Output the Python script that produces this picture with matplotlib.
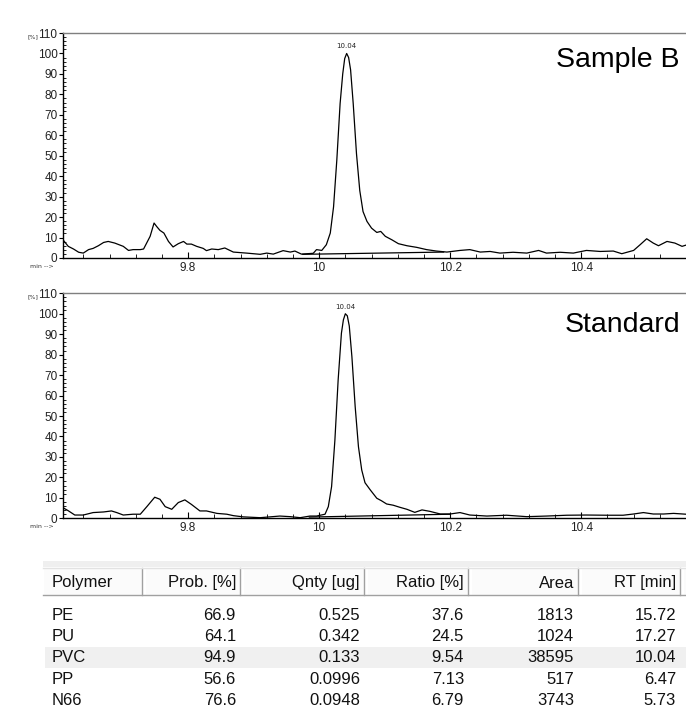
import matplotlib
matplotlib.use("Agg")
import matplotlib.pyplot as plt
from matplotlib.ticker import FixedLocator, MultipleLocator
from matplotlib.patches import Rectangle
import numpy as np

# ---------------- data ----------------
sample_t = [9.609, 9.617, 9.625, 9.633, 9.640, 9.648, 9.655, 9.663, 9.671, 9.678,
            9.688, 9.701, 9.709, 9.716, 9.727, 9.732, 9.742, 9.748, 9.752, 9.757,
            9.763, 9.770, 9.777, 9.785, 9.793, 9.798, 9.805, 9.813, 9.823, 9.828,
            9.836, 9.846, 9.856, 9.869, 9.889, 9.910, 9.920, 9.930, 9.945, 9.956,
            9.963, 9.973, 9.991, 9.996, 10.004, 10.011, 10.017, 10.022, 10.027, 10.032,
            10.036, 10.039, 10.042, 10.045, 10.048, 10.052, 10.057, 10.062, 10.067, 10.073,
            10.080, 10.088, 10.094, 10.101, 10.111, 10.121, 10.134, 10.149, 10.164, 10.179,
            10.195, 10.215, 10.230, 10.246, 10.261, 10.276, 10.296, 10.317, 10.335, 10.347,
            10.368, 10.388, 10.408, 10.429, 10.449, 10.462, 10.480, 10.490, 10.500, 10.510,
            10.518, 10.531, 10.543, 10.554, 10.560]
sample_v = [8.9, 5.7, 4.4, 2.8, 2.4, 4.1, 4.7, 6.0, 7.6, 8.1,
            7.3, 5.7, 3.7, 4.1, 4.1, 4.4, 10.6, 17.1, 15.4, 13.5,
            12.2, 8.1, 5.4, 7.0, 8.1, 6.8, 6.8, 5.7, 4.7, 3.6,
            4.4, 4.1, 4.9, 2.9, 2.4, 1.8, 2.4, 1.9, 3.6, 2.9,
            3.4, 1.9, 2.3, 4.1, 3.7, 6.5, 12.2, 25.0, 48.0, 75.5,
            90.0, 97.5, 100.0, 98.0, 92.0, 75.5, 51.0, 33.0, 22.7, 17.9,
            14.6, 12.5, 13.0, 10.6, 8.9, 7.0, 6.0, 5.2, 4.1, 3.4,
            2.9, 3.7, 4.1, 2.9, 3.2, 2.4, 2.8, 2.4, 3.7, 2.4,
            2.8, 2.4, 3.7, 3.2, 3.4, 2.1, 3.7, 6.5, 9.4, 7.3,
            6.0, 8.1, 7.3, 5.7, 6.3]
sample_base_t = [9.975, 10.19]
sample_base_v = [1.8, 2.9]

std_t = [9.609, 9.617, 9.627, 9.640, 9.655, 9.671, 9.683, 9.691, 9.701, 9.716,
         9.727, 9.737, 9.749, 9.757, 9.765, 9.775, 9.785, 9.795, 9.805, 9.818,
         9.828, 9.844, 9.859, 9.869, 9.884, 9.910, 9.925, 9.940, 9.956, 9.971,
         9.986, 9.996, 10.009, 10.014, 10.019, 10.024, 10.029, 10.034, 10.037, 10.040,
         10.043, 10.046, 10.050, 10.055, 10.060, 10.065, 10.070, 10.078, 10.088, 10.095,
         10.103, 10.113, 10.123, 10.134, 10.146, 10.157, 10.169, 10.185, 10.200, 10.215,
         10.230, 10.256, 10.286, 10.317, 10.347, 10.378, 10.408, 10.439, 10.464, 10.480,
         10.495, 10.510, 10.526, 10.541, 10.560]
std_v = [5.2, 3.7, 1.6, 1.6, 2.8, 3.1, 3.6, 2.8, 1.6, 2.0,
         2.0, 5.7, 10.3, 9.3, 5.7, 4.4, 7.7, 9.0, 6.8, 3.6,
         3.6, 2.4, 2.0, 1.3, 0.7, 0.3, 0.7, 1.1, 0.8, 0.3,
         1.1, 1.1, 2.0, 5.7, 15.5, 38.0, 67.6, 90.5, 97.0, 100.0,
         99.0, 94.0, 79.0, 54.6, 35.0, 23.6, 17.4, 13.9, 9.8, 8.6,
         7.0, 6.4, 5.4, 4.4, 2.9, 4.1, 3.4, 2.1, 2.1, 2.8,
         1.6, 1.1, 1.5, 0.8, 1.1, 1.5, 1.6, 1.5, 1.5, 2.1,
         2.8, 2.1, 2.1, 2.4, 2.0]
std_base_t = [9.985, 10.20]
std_base_v = [0.6, 2.0]

peak_label = "10.04"
xtick_vals = [9.8, 10.0, 10.2, 10.4]
xtick_labels = ["9.8", "10", "10.2", "10.4"]
ytick_vals = [0, 10, 20, 30, 40, 50, 60, 70, 80, 90, 100, 110]

table_columns = ["Polymer", "Prob. [%]", "Qnty [ug]", "Ratio [%]", "Area", "RT [min]"]
polymers = ["PE", "PU", "PVC", "PP", "N66"]
prob = ["66.9", "64.1", "94.9", "56.6", "76.6"]
qnty = ["0.525", "0.342", "0.133", "0.0996", "0.0948"]
ratio = ["37.6", "24.5", "9.54", "7.13", "6.79"]
area = ["1813", "1024", "38595", "517", "3743"]
rt = ["15.72", "17.27", "10.04", "6.47", "5.73"]

# ---------------- figure ----------------
W, H = 686, 719
fig = plt.figure(figsize=(W / 100, H / 100), dpi=100)
fig.patch.set_facecolor("white")

TICK_FONT = ["Liberation Sans Narrow", "Liberation Sans", "DejaVu Sans"]


def chrom(top_px, bottom_px, t, v, bt, bv, title, title_xy):
    ax = fig.add_axes([63 / W, 1 - bottom_px / H, (W - 63) / W, (bottom_px - top_px) / H])
    ax.plot(t, v, color="black", lw=0.9, solid_joinstyle="round")
    ax.plot(bt, bv, color="black", lw=0.9)
    ax.set_xlim(9.609, 10.560)
    ax.set_ylim(0, 110)
    ax.spines["right"].set_visible(False)
    ax.spines["top"].set_color("#7f7f7f")
    ax.spines["top"].set_linewidth(1.0)
    ax.spines["left"].set_linewidth(1.0)
    ax.spines["bottom"].set_linewidth(1.0)
    ax.yaxis.set_major_locator(FixedLocator(ytick_vals))
    ax.yaxis.set_minor_locator(MultipleLocator(2))
    ax.xaxis.set_major_locator(FixedLocator(xtick_vals))
    ax.set_xticklabels(xtick_labels)
    ax.xaxis.set_minor_locator(MultipleLocator(0.04))
    ax.tick_params(axis="y", which="major", direction="out", length=3, width=0.8,
                   pad=1, labelsize=8.5, labelcolor="#222222")
    ax.tick_params(axis="y", which="minor", direction="in", length=2, width=0.6)
    ax.tick_params(axis="x", which="major", direction="in", length=4, width=0.8,
                   pad=3, labelsize=8.5, labelcolor="#222222")
    ax.tick_params(axis="x", which="minor", direction="in", length=3, width=0.6)
    for lab in ax.get_xticklabels() + ax.get_yticklabels():
        lab.set_family(TICK_FONT)
    i = int(np.argmax(v))
    ax.text(t[i], v[i] + 2, peak_label, ha="center", va="bottom", fontsize=5,
            color="#222222", family=["DejaVu Sans"])
    fig.text(28 / W, 1 - (top_px + 4) / H, "[%]", fontsize=4.5, color="#333333",
             ha="left", va="center")
    fig.text(30 / W, 1 - (bottom_px + 8.5) / H, "min -->", fontsize=4.5, color="#333333",
             ha="left", va="center")
    fig.text(title_xy[0] / W, 1 - title_xy[1] / H, title, fontsize=20.5,
             family=["Liberation Sans", "DejaVu Sans"], ha="left", va="baseline",
             color="black")
    return ax


chrom(33, 258, sample_t, sample_v, sample_base_t, sample_base_v, "Sample B", (556, 67))
chrom(293.3, 518.3, std_t, std_v, std_base_t, std_base_v, "Standard", (565, 332))

# ---------------- table ----------------
tax = fig.add_axes([0, 0, 1, 1], zorder=-1)
tax.set_xlim(0, W)
tax.set_ylim(H, 0)
tax.axis("off")

TFONT = ["Liberation Sans", "DejaVu Sans"]
left = 43
seps = [142, 240, 364, 468, 578, 680]
starts = [left] + [s + 3 for s in seps[:-1]]
# top light strip
tax.add_patch(Rectangle((left, 561), W - left, 6, color="#efefef", lw=0))
# header cells
hdr_top, hdr_bot = 568, 595
for s0, s1 in zip(starts + [683], seps + [W + 5]):
    tax.add_patch(Rectangle((s0, hdr_top), s1 - s0, hdr_bot - hdr_top,
                            facecolor="#fbfbfb", edgecolor="none"))
    tax.plot([s0, s0], [hdr_top, hdr_bot], color="white", lw=1)
    tax.plot([s1, s1], [hdr_top, hdr_bot], color="#a0a0a0", lw=1)
tax.plot([left, W], [hdr_bot, hdr_bot], color="#a0a0a0", lw=1)
tax.plot([left, W], [hdr_top, hdr_top], color="#e2e2e2", lw=1)

rights = [s - 4 for s in seps]
hdr_y = 583
tax.text(52, hdr_y, table_columns[0], ha="left", va="center", fontsize=12,
         family=TFONT, color="#111111")
for j in range(1, len(table_columns)):
    tax.text(rights[j], hdr_y, table_columns[j], ha="right", va="center", fontsize=12,
             family=TFONT, color="#111111")

row_y0, row_dy = 615.5, 21.2
cols = [prob, qnty, ratio, area, rt]
for r, name in enumerate(polymers):
    y = row_y0 + r * row_dy
    if name == "PVC":
        tax.add_patch(Rectangle((left + 2, y - 10.5), W - left, 21, color="#f0f0f0", lw=0))
    tax.text(52, y, name, ha="left", va="center", fontsize=12, family=TFONT,
             color="#111111")
    for j, col in enumerate(cols):
        tax.text(rights[j + 1], y, col[r], ha="right", va="center", fontsize=12,
                 family=TFONT, color="#111111")

fig.savefig("out.png", dpi=100, facecolor="white")
